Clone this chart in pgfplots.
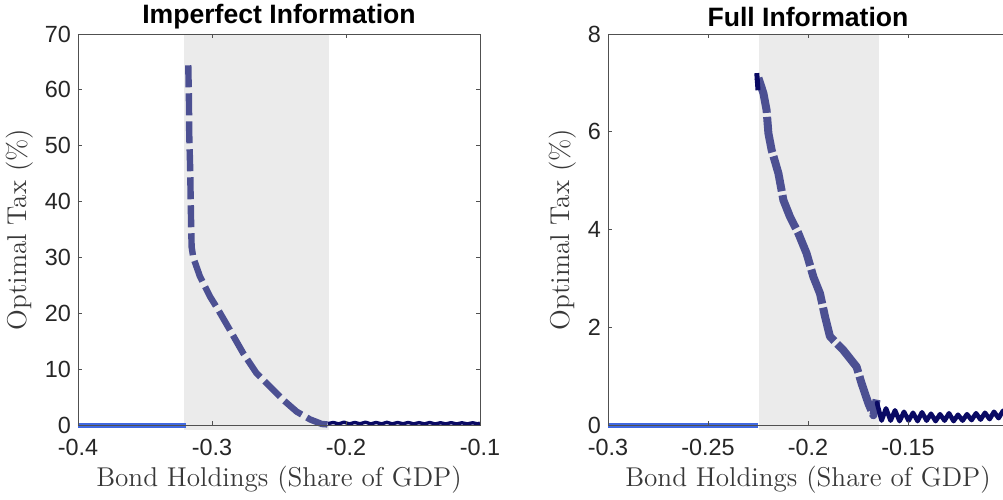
\documentclass[border=0pt]{standalone}
\usepackage{fontspec}
\setsansfont{Liberation Sans}
\usepackage{pgfplots}
\pgfplotsset{compat=1.18}
\definecolor{shadegray}{RGB}{235,235,235}
\definecolor{royal}{RGB}{65,105,225}
\definecolor{purp}{RGB}{76,80,146}
\definecolor{navy}{RGB}{10,10,100}
\definecolor{axgray}{RGB}{80,80,80}
\pgfplotsset{mystyle/.style={
  scale only axis, height=195.5pt,
  axis on top, clip=false,
  tick align=inside, major tick length=2pt,
  axis line style={axgray, line width=0.45pt},
  every tick/.style={axgray, line width=0.45pt},
  tick label style={font=\sffamily\fontsize{11.7}{13}\selectfont, text=black!85},
  /pgf/number format/assume math mode=true,
  label style={font=\fontsize{13.6}{15}\selectfont, text=black!78},
  xlabel style={at={(axis description cs:0.5,-0.1407)}, anchor=center},
  xticklabel style={yshift=-3.6pt},
  ymin=0,
}}
\begin{document}
\begin{tikzpicture}
\begin{axis}[mystyle, at={(39pt,37pt)}, anchor=south west, width=201pt,
  xmin=-0.4, xmax=-0.1, ymax=70,
  xtick={-0.4,-0.3,-0.2,-0.1}, xticklabels={-0.4,-0.3,-0.2,-0.1},
  ytick={0,10,20,30,40,50,60,70},
  ylabel style={at={(axis description cs:-0.1443,0.5)}, anchor=center},
  xlabel={Bond Holdings (Share of GDP)}, ylabel={Optimal Tax (\%)}]
\fill[shadegray] (axis cs:-0.321,-0.9) rectangle (axis cs:-0.2127,70);
\addplot[royal, line width=2.5pt] coordinates {(-0.4,0) (-0.3195,0)};
\addplot[purp, line width=3.2pt, dash pattern=on 11pt off 3pt] coordinates {
(-0.3177,64.4) (-0.3172,58) (-0.3170,52.2) (-0.3163,46) (-0.3159,40.3) (-0.3155,35) (-0.3152,31.9) (-0.314,30.0) (-0.309,26.6) (-0.3015,23.0) (-0.2953,20.6) (-0.2866,17.0) (-0.2766,12.8) (-0.2667,9.25) (-0.2567,6.86) (-0.2468,4.48) (-0.2368,2.39) (-0.2269,1.01) (-0.2181,0.18) (-0.2135,0.1)};
\addplot[navy, line width=1.7pt, line join=round] coordinates {
(-0.2135,0.25) (-0.2095,0.45) (-0.2055,0.2) (-0.2015,0.5) (-0.1975,0.2) (-0.1935,0.45) (-0.1895,0.22) (-0.1855,0.5) (-0.1815,0.2) (-0.1775,0.45) (-0.1735,0.2) (-0.1695,0.48) (-0.1655,0.2) (-0.1615,0.45) (-0.1575,0.22) (-0.1535,0.45) (-0.1495,0.2) (-0.1455,0.42) (-0.1415,0.2) (-0.1375,0.45) (-0.1335,0.18) (-0.1295,0.4) (-0.1255,0.2) (-0.1215,0.42) (-0.1175,0.18) (-0.1135,0.4) (-0.1095,0.2) (-0.1055,0.4) (-0.1015,0.2) (-0.1,0.35)};
\node[font=\sffamily\bfseries\fontsize{13.3}{15}\selectfont, anchor=center] at (axis description cs:0.5,1.0435) {Imperfect Information};
\end{axis}
\begin{axis}[mystyle, at={(304pt,37pt)}, anchor=south west, width=200pt,
  xmin=-0.3, xmax=-0.1, ymax=8,
  xtick={-0.3,-0.25,-0.2,-0.15}, xticklabels={-0.3,-0.25,-0.2,-0.15},
  ytick={0,2,4,6,8},
  ylabel style={at={(axis description cs:-0.1125,0.5)}, anchor=center},
  xlabel={Bond Holdings (Share of GDP)}, ylabel={Optimal Tax (\%)}]
\fill[shadegray] (axis cs:-0.2245,-0.1) rectangle (axis cs:-0.1645,8);
\addplot[royal, line width=2.5pt] coordinates {(-0.3,0) (-0.2252,0)};
\addplot[purp, line width=4pt, dash pattern=on 18pt off 2pt, line join=round] coordinates {
(-0.2248,7.1) (-0.2223,6.79) (-0.2207,6.44) (-0.2198,5.97) (-0.2182,5.63) (-0.2148,5.15) (-0.2123,4.60) (-0.209,4.26) (-0.2048,3.92) (-0.2007,3.51) (-0.1973,3.03) (-0.194,2.69) (-0.1915,2.22) (-0.189,1.81) (-0.1823,1.53) (-0.1757,1.19) (-0.1732,0.85) (-0.1698,0.44) (-0.1673,0.2) (-0.1657,0.52)};
\addplot[navy, line width=2.5pt] coordinates {(-0.2256,7.2) (-0.2250,6.85)};
\addplot[navy, line width=2.3pt, line join=round, line cap=round] coordinates {
(-0.1655,0.45) (-0.1632,0.09) (-0.1610,0.34) (-0.1587,0.09) (-0.1565,0.30) (-0.1542,0.08) (-0.1520,0.27) (-0.1497,0.09) (-0.1475,0.25) (-0.1452,0.08) (-0.1430,0.26) (-0.1407,0.09) (-0.1385,0.23) (-0.1362,0.08) (-0.1340,0.22) (-0.1317,0.09) (-0.1295,0.24) (-0.1272,0.08) (-0.1250,0.21) (-0.1227,0.09) (-0.1205,0.22) (-0.1182,0.10) (-0.1160,0.24) (-0.1137,0.11) (-0.1115,0.25) (-0.1092,0.12) (-0.1070,0.27) (-0.1047,0.14) (-0.1025,0.29) (-0.1000,0.18)};
\node[font=\sffamily\bfseries\fontsize{13.3}{15}\selectfont, anchor=center] at (axis description cs:0.5,1.0435) {Full Information};
\end{axis}
\pgfresetboundingbox
\path[use as bounding box] (0,0) rectangle (501.5pt,249.5pt);
\end{tikzpicture}
\end{document}
